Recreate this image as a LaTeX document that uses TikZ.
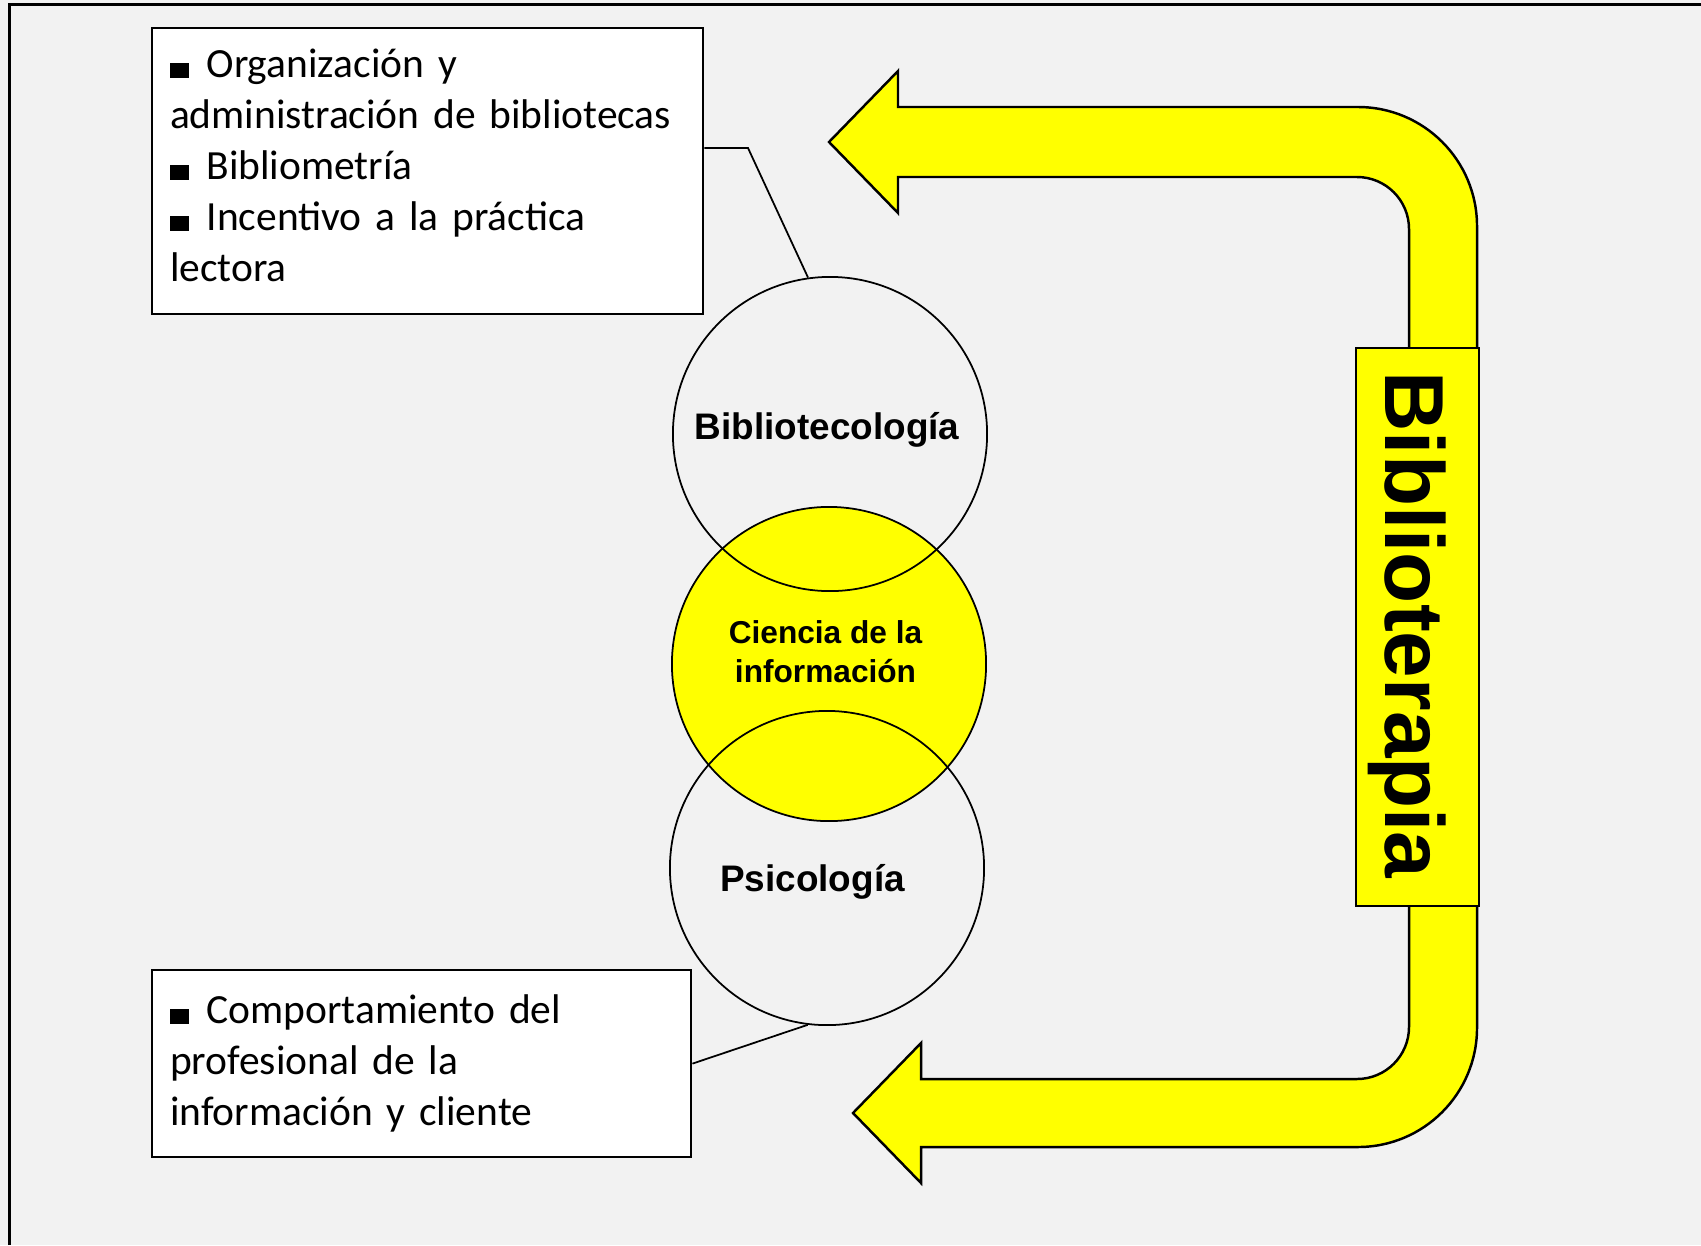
\documentclass[tikz,border=0pt]{standalone}
\usepackage{fontspec}
\setmainfont{Carlito}
\newfontfamily\arialfont{Liberation Sans}
\usetikzlibrary{positioning,calc}
\definecolor{slidegray}{HTML}{F2F2F2}
\definecolor{brightyellow}{HTML}{FFFF00}
\newcommand{\sqbullet}{\rule{0.46em}{0.36em}\hspace{0.42em}}
\tikzset{
    textbox/.style = {
        draw,
        fill=white,
        shape=rectangle,
        anchor=north west,
        align=left,
        inner xsep=0.18cm,
        inner ysep=0pt,
        line width=0.6pt,
        font=\fontsize{11.8}{14.5}\selectfont
    },
    field/.style = {
        draw,
        shape=circle,
        minimum size=3.14cm,
        inner sep=0pt,
        line width=0.5pt
    },
    fieldname/.style = {
        align=center,
        inner sep=0pt,
        font=\arialfont\bfseries\fontsize{10.5}{12.6}\selectfont
    },
    tagbox/.style = {
        draw,
        fill=brightyellow,
        shape=rectangle,
        minimum width=1.23cm,
        minimum height=5.58cm,
        line width=0.6pt
    },
    bigarrow/.style = {
        draw,
        fill=brightyellow,
        line width=0.7pt
    },
}

\begin{document}
\begin{tikzpicture}[x=0.01cm, y=-0.01cm]
                \useasboundingbox (0,0) rectangle (1701,1245);
                \fill[slidegray] (0,0) rectangle (1701,1245);
                \path[draw, line width=1pt] (9.5,1245) -- (9.5,4.5) -- (1701,4.5);

                \path[bigarrow] (829,142) -- (898,71) -- (898,107) -- (1100,107)
                [rounded corners=1.19cm] -- (1477,107) -- (1477,1147) -- (1100,1147)
                [sharp corners] -- (921,1147) -- (921,1183) -- (853,1113) -- (921,1043)
                -- (921,1079) -- (1100,1079)
                [rounded corners=0.52cm] -- (1409,1079) -- (1409,177) -- (1100,177)
                [sharp corners] -- (898,177) -- (898,213) -- cycle;

                \node[tagbox] (tag) at (1417.5,627) {};
                \node[rotate=-90, inner sep=0pt,
                font=\arialfont\bfseries\fontsize{23.8}{28}\selectfont]
                (tagtext) at ([xshift=-0.1cm,yshift=0.02cm]tag.center) {Biblioterapia};

                \node[textbox, text width=5.15cm, minimum height=2.86cm] (topbox) at (151,27)
                {\sqbullet Organización y\\administración de bibliotecas\\\sqbullet Bibliometría\\\sqbullet Incentivo a la práctica\\lectora\rule[-3.1pt]{0pt}{0pt}};
                \node[textbox, text width=5.03cm, minimum height=1.87cm] (botbox) at (151,969)
                {\sqbullet Comportamiento del\\profesional de la\\información y cliente};

                \node[field, fill=brightyellow] (cdi) at (829,664) {};
                \node[field] (bib) at (830,434) {};
                \node[field] (psi) at (827,868) {};

                \node[fieldname] (bibname) at (827,429.5) {Bibliotecología};
                \node[fieldname, font=\arialfont\bfseries\fontsize{9}{11.1}\selectfont]
                (cdiname) at (825.5,652) {Ciencia de la\\información};
                \node[fieldname] (psiname) at (812.5,881.5) {Psicología};

                \coordinate (bend) at (748,148);
                \path[draw, line width=0.5pt] (topbox.east |- bend) -- (bend) -- (bib.98);
                \path[draw, line width=0.5pt] (botbox.east) -- (psi.263);
\end{tikzpicture}
\end{document}
